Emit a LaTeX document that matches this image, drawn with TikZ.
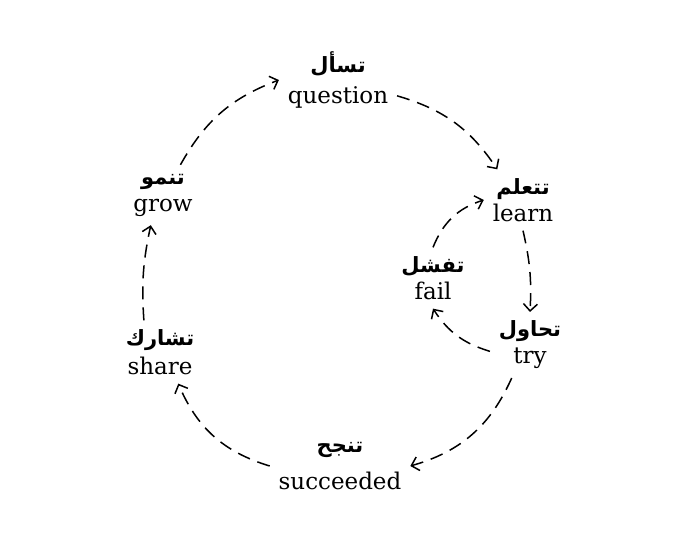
\documentclass[tikz,border=0pt]{standalone}
\usepackage{fontspec}
\setmainfont{DejaVu Serif}
\newfontfamily\arabicfont[Script=Arabic]{DejaVu Sans}
\TeXXeTstate=1
\usetikzlibrary{arrows.meta}

\newcommand{\arword}[1]{{\arabicfont\bfseries\fontsize{21}{25}\selectfont\beginR #1\endR}}

\begin{document}
\begin{tikzpicture}[x=1pt, y=1pt,
	word/.style={align=center, font=\fontsize{23}{27}\selectfont, inner sep=2pt, outer sep=7pt},
	link/.style={-{Straight Barb[length=7pt,width=14pt]}, line width=1.5pt, dash pattern=on 13pt off 8pt}]
	\useasboundingbox (0,0) rectangle (680,538);

	\node[word] (question) at (338,458) {\arword{تسأل}\\[4pt]question};
	\node[word] (learn) at (523,338) {\arword{تتعلم}\\learn};
	\node[word] (fail) at (433,260) {\arword{تفشل}\\fail};
	\node[word] (try) at (530,193) {\arword{تحاول}\\try};
	\node[word] (succeeded) at (340,72) {\arword{تنجح}\\[10pt]succeeded};
	\node[word] (share) at (160,186) {\arword{تشارك}\\[2pt]share};
	\node[word] (grow) at (163,343) {\arword{تنمو}\\grow};

	\draw (question.-15) edge[link, bend left=20] (learn.130)
	      (learn.south) edge[link, bend left=8] (try.north)
	      (try.241) edge[link, bend left=25] (succeeded.east)
	      (succeeded.west) edge[link, bend left=25] (share.-60)
	      (share.117) edge[link, bend left=8] (grow.248)
	      (grow.60) edge[link, bend left=20] (question.west)
	      (try.189) edge[link, bend left=20] (fail.south)
	      (fail.north) edge[link, bend left=25] (learn.west);
\end{tikzpicture}
\end{document}
